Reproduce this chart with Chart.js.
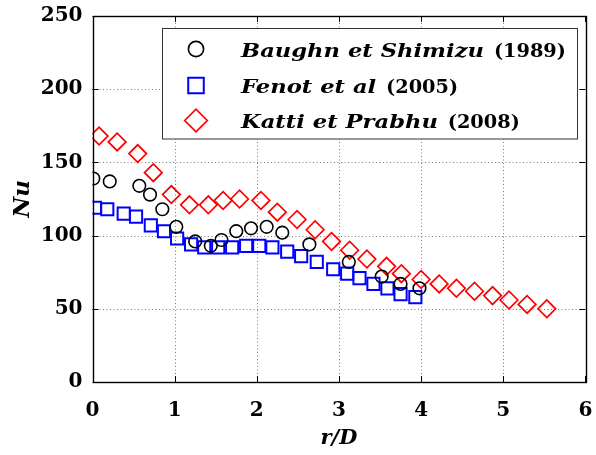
<!DOCTYPE html>
<html><head><meta charset="utf-8">
<script src="https://cdn.jsdelivr.net/npm/chart.js@4/dist/chart.umd.min.js"></script>
<style>html,body{margin:0;padding:0;background:#fff}#wrap{width:596px;height:455px}</style>
</head><body><div id="wrap"><canvas id="c" width="596" height="455"></canvas></div>
<script>
// ---- data ----
const baughnX = [0.01,0.21,0.57,0.70,0.85,1.02,1.25,1.44,1.57,1.75,1.93,2.12,2.31,2.64,3.12,3.52,3.75,3.98];
const baughnY = [139,137,134,128,118,106,96,93,97,103,105,106,102,94,82,72,67,64];
const fenotX = [0.03,0.18,0.38,0.53,0.71,0.87,1.03,1.20,1.36,1.53,1.70,1.87,2.03,2.19,2.37,2.54,2.73,2.93,3.10,3.25,3.42,3.59,3.75,3.93];
const fenotY = [119,118,115,113,107,103,98,94,92,92,92,93,93,92,89,86,82,77,74,71,67,64,60,58];
const kattiX = [0.08,0.30,0.55,0.74,0.96,1.18,1.41,1.59,1.79,2.05,2.25,2.49,2.71,2.91,3.13,3.34,3.58,3.76,4.00,4.22,4.43,4.65,4.87,5.07,5.29,5.53];
const kattiY = [168,164,156,143,128,121,121,124,125,124,116,111,104,96,90,84,79,74,70,67,64,62,59,56,53,50];
const xTicks = [0,1,2,3,4,5,6];
const yTicks = [0,50,100,150,200,250];
const legendNames = ['Baughn et Shimizu','Fenot et al','Katti et Prabhu'];
const legendYears = ['(1989)','(2005)','(2008)'];
const xTitle = 'r/D';
const yTitle = 'Nu';

const zip = (xs, ys) => xs.map((x, i) => ({x, y: ys[i]}));
const styles = [
  {color:'#000000', style:'circle', r:6.3, w:1.6, lr:7.6},
  {color:'#0000ff', style:'rect', r:8.6, w:2.0, lr:11.0},
  {color:'#ff0000', style:'rectRot', r:8.8, w:1.7, lr:11.3}
];
const series = [zip(baughnX, baughnY), zip(fenotX, fenotY), zip(kattiX, kattiY)];

function drawMarker(ctx, st, x, y, r) {
  ctx.save();
  ctx.strokeStyle = st.color; ctx.lineWidth = st.w;
  ctx.beginPath();
  if (st.style === 'circle') ctx.arc(x, y, r, 0, Math.PI * 2);
  else if (st.style === 'rect') { const s = r * Math.SQRT1_2; ctx.rect(x - s, y - s, 2 * s, 2 * s); }
  else { ctx.moveTo(x - r, y); ctx.lineTo(x, y - r); ctx.lineTo(x + r, y); ctx.lineTo(x, y + r); ctx.closePath(); }
  ctx.stroke();
  ctx.restore();
}

function stretchedText(ctx, text, x, y, sx) {
  ctx.save();
  ctx.translate(x, y);
  ctx.scale(sx, 1);
  ctx.fillText(text, 0, 0);
  ctx.restore();
}

const framePlugin = {
  id: 'frame',
  beforeDatasetsDraw(chart) {
    const {ctx, chartArea: a, scales: {x, y}} = chart;
    ctx.save();
    ctx.strokeStyle = '#7a7a7a'; ctx.lineWidth = 1; ctx.setLineDash([1, 2.5]);
    ctx.beginPath();
    xTicks.forEach(v => { if (v > x.min && v < x.max) { const p = Math.round(x.getPixelForValue(v)) + 0.5; ctx.moveTo(p, a.top); ctx.lineTo(p, a.bottom); } });
    yTicks.forEach(v => { if (v > y.min && v < y.max) { const p = Math.round(y.getPixelForValue(v)) + 0.5; ctx.moveTo(a.left, p); ctx.lineTo(a.right, p); } });
    ctx.stroke();
    ctx.restore();
  },
  afterDatasetsDraw(chart) {
    const {ctx, chartArea: a, scales: {x, y}} = chart;
    ctx.save();
    ctx.strokeStyle = '#000'; ctx.lineWidth = 1; ctx.setLineDash([]);
    ctx.beginPath();
    const tl = 6;
    xTicks.forEach(v => { const p = Math.round(x.getPixelForValue(v)) + 0.5; ctx.moveTo(p, a.bottom); ctx.lineTo(p, a.bottom - tl); ctx.moveTo(p, a.top); ctx.lineTo(p, a.top + tl); });
    yTicks.forEach(v => { const p = Math.round(y.getPixelForValue(v)) + 0.5; ctx.moveTo(a.left, p); ctx.lineTo(a.left + tl, p); ctx.moveTo(a.right, p); ctx.lineTo(a.right - tl, p); });
    ctx.stroke();
    ctx.lineWidth = 1.4;
    ctx.strokeRect(Math.round(a.left) + 0.5, Math.round(a.top) + 0.5, Math.round(a.right - a.left), Math.round(a.bottom - a.top));

    // legend
    const lx = 162.5, ly = 28.5, lw = 415, lh = 110.5;
    ctx.fillStyle = '#fff';
    ctx.fillRect(lx, ly, lw, lh);
    ctx.strokeStyle = '#333'; ctx.lineWidth = 1;
    ctx.strokeRect(lx, ly, lw, lh);
    const rowsY = [49, 85.5, 120.5];
    const base = [56.7, 93, 128];
    ctx.fillStyle = '#000';
    ctx.textBaseline = 'alphabetic';
    ctx.textAlign = 'left';
    const nameFont = 'italic bold 19px "DejaVu Serif"';
    const yearFont = 'bold 19px "DejaVu Serif"';
    ctx.font = nameFont;
    const sxName = 243 / ctx.measureText(legendNames[0]).width;
    const spaceW = ctx.measureText(' ').width * sxName;
    ctx.font = yearFont;
    const sxYear = 72 / ctx.measureText(legendYears[0]).width;
    legendNames.forEach((name, i) => {
      drawMarker(ctx, styles[i], 196, rowsY[i], styles[i].lr);
      ctx.font = nameFont;
      const w = ctx.measureText(name).width * sxName;
      stretchedText(ctx, name, 241, base[i], sxName);
      ctx.font = yearFont;
      stretchedText(ctx, legendYears[i], 241 + w + spaceW + 2, base[i], sxYear);
    });
    ctx.restore();
  }
};

const zeroPad = s => { s.paddingLeft = 0; s.paddingRight = 0; s.paddingTop = 0; s.paddingBottom = 0; };
const tickFont = {family: 'DejaVu Serif', weight: 'bold', size: 20};
new Chart(document.getElementById('c'), {
  type: 'scatter',
  data: {
    datasets: series.map((d, i) => ({
      label: legendNames[i] + ' ' + legendYears[i],
      data: d,
      pointStyle: styles[i].style,
      pointRadius: styles[i].r,
      pointHoverRadius: styles[i].r,
      pointBorderWidth: styles[i].w,
      borderColor: styles[i].color,
      backgroundColor: 'rgba(0,0,0,0)',
      showLine: false
    }))
  },
  options: {
    responsive: false,
    animation: false,
    devicePixelRatio: 1,
    events: [],
    layout: {padding: {left: 0, top: 16, right: 7, bottom: 0}},
    plugins: {legend: {display: false}, tooltip: {enabled: false}},
    scales: {
      x: {
        type: 'linear', min: 0, max: 6,
        afterBuildTicks: s => { s.ticks = xTicks.map(v => ({value: v})); },
        afterFit: s => { s.height = 73; zeroPad(s); },
        grid: {display: false, drawTicks: false},
        border: {display: false},
        ticks: {font: tickFont, color: '#000', padding: 17, maxRotation: 0, autoSkip: false},
        title: {display: true, text: xTitle, color: '#000', font: {family: 'DejaVu Serif', style: 'italic', weight: 'bold', size: 21}, padding: {top: 0, bottom: 4}}
      },
      y: {
        type: 'linear', min: 0, max: 250,
        afterBuildTicks: s => { s.ticks = yTicks.map(v => ({value: v})); },
        afterFit: s => { s.width = 92.5; zeroPad(s); },
        grid: {display: false, drawTicks: false},
        border: {display: false},
        ticks: {font: tickFont, color: '#000', padding: 10, autoSkip: false},
        title: {display: true, text: yTitle, color: '#000', font: {family: 'DejaVu Serif', style: 'italic', weight: 'bold', size: 23}, padding: {top: 9, bottom: 0}}
      }
    }
  },
  plugins: [framePlugin]
});
</script>
</body></html>
